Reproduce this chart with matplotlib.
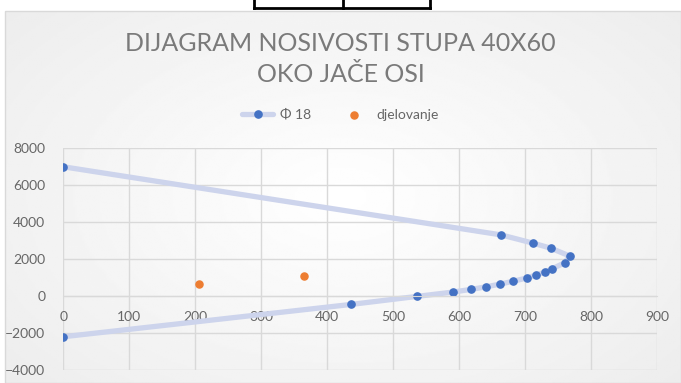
import numpy as np
import matplotlib
matplotlib.use('Agg')
import matplotlib.pyplot as plt
from matplotlib.lines import Line2D
from matplotlib.patches import Rectangle

# interakcijska krivulja (M, N) i djelovanje
M_phi18 = [0, 663, 712, 739, 767, 760, 741, 730, 716, 702, 681, 662, 641, 618, 590, 536, 436, 0]
N_phi18 = [7000, 3315, 2864, 2590, 2174, 1810, 1484, 1304, 1141, 978, 799, 652, 505, 364, 217, -16, -451, -2200]
M_djel = [205, 364]
N_djel = [652, 1105]

xticks = [0, 100, 200, 300, 400, 500, 600, 700, 800, 900]
yticks = [-4000, -2000, 0, 2000, 4000, 6000, 8000]

plt.rcParams['font.family'] = ['Lato', 'DejaVu Sans']
W, H = 681, 383
fig = plt.figure(figsize=(W / 100, H / 100), dpi=100)
fig.patch.set_facecolor('white')

# pozadina grafikona - blagi radijalni gradijent
bg = fig.add_axes([5 / W, 0, 1 - 5 / W, 1 - 11 / H])
yy, xx = np.mgrid[-1:1:200j, -1:1:400j]
r = np.sqrt((xx * 0.9) ** 2 + (yy * 0.8) ** 2)
bg.imshow(1 - 0.06 * np.clip(r, 0, 1.3), cmap='gray', vmin=0, vmax=1, aspect='auto',
          extent=[0, 1, 0, 1])
bg.set_axis_off()
fig.add_artist(Rectangle((5 / W, 0), 1 - 5 / W, 1 - 11 / H, transform=fig.transFigure,
                         fill=False, edgecolor='#d9d9d9', lw=1))

# dio tablice iznad grafikona
for x0 in [254, 343, 430]:
    fig.add_artist(Line2D([x0 / W, x0 / W], [1 - 8 / H, 1], transform=fig.transFigure, color='black', lw=2))
fig.add_artist(Line2D([254 / W, 430 / W], [1 - 8 / H, 1 - 8 / H], transform=fig.transFigure, color='black', lw=2))

ax = fig.add_axes([63.3 / W, 1 - 370 / H, 594 / W, 221.7 / H])
ax.set_facecolor('none')
ax.plot(M_phi18, N_phi18, color='#cdd4ec', lw=3.8, solid_capstyle='round', zorder=2,
        marker='o', markersize=5.2, markerfacecolor='#4472c4', markeredgecolor='#4472c4',
        label='Φ 18')
ax.scatter(M_djel, N_djel, s=26, color='#ed7d31', zorder=3, label='djelovanje')

ax.set_xlim(0, 900)
ax.set_ylim(-4000, 8000)
ax.set_xticks(xticks)
ax.set_yticks(yticks)
ax.grid(True, color='#d9d9d9', lw=1)
ax.set_axisbelow(True)
for s in ['top', 'left', 'right']:
    ax.spines[s].set_visible(False)
ax.spines['bottom'].set_position(('data', 0))
ax.spines['bottom'].set_color('#d9d9d9')
ax.tick_params(axis='both', length=0, labelsize=10, labelcolor='#666666')
ax.tick_params(axis='y', pad=13)
ax.tick_params(axis='x', pad=11)

fig.text(0.5, 1 - 59 / H, 'DIJAGRAM NOSIVOSTI STUPA 40X60\nOKO JAČE OSI', ha='center', va='center',
         fontsize=18, color='#7a7a7a', linespacing=1.38)

fig.legend(loc='center', bbox_to_anchor=(0.5, 1 - 115 / H), ncol=2, frameon=False,
           fontsize=10, labelcolor='#666666', handlelength=2.2, columnspacing=2.0, handletextpad=0.5)

fig.savefig('out.png', dpi=100)
